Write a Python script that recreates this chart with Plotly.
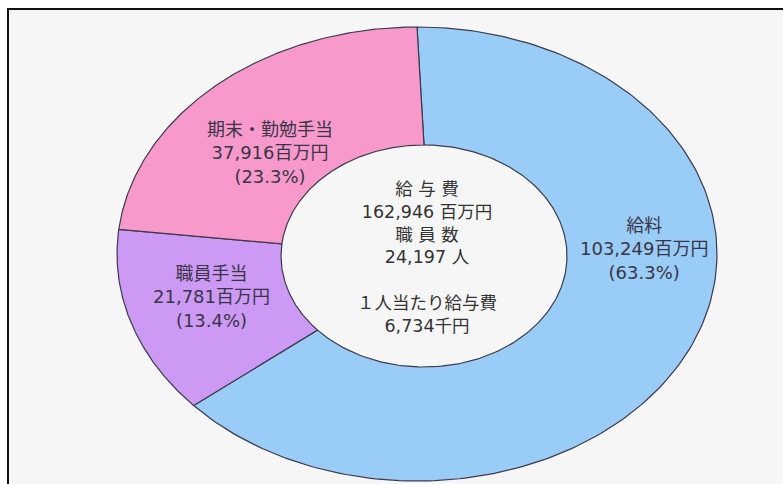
import numpy as np
import plotly.graph_objects as go

# ---- data ----
categories = ["給料", "職員手当", "期末・勤勉手当"]
values = [103249, 21781, 37916]          # 百万円
percents = ["63.3%", "13.4%", "23.3%"]
colors = ["#99CCF7", "#CC99F5", "#F799CB"]
total_cost = "162,946"                   # 百万円
staff_count = "24,197"                   # 人
per_person = "6,734"                     # 千円

# ---- geometry (layout, pixel-like axis units) ----
W, H = 783, 484
OUT_CX, OUT_CY, OUT_RX, OUT_RY = 417, 254, 300, 227
IN_CX, IN_CY, IN_RX, IN_RY = 424, 256, 143, 111
label_pos = {"給料": (644, 249), "職員手当": (211, 297), "期末・勤勉手当": (270, 153)}
TXT = "#3a3546"
FONT = "DejaVu Sans, Noto Sans CJK JP"

fig = go.Figure()

total = float(sum(values))
start = 0.0
for cat, val, col in zip(categories, values, colors):
    frac0 = start / total
    frac1 = (start + val) / total
    start += val
    th = np.linspace(frac0, frac1, 200) * 2 * np.pi  # clockwise from 12 o'clock
    xo = OUT_CX + OUT_RX * np.sin(th)
    yo = OUT_CY - OUT_RY * np.cos(th)
    xi = IN_CX + IN_RX * np.sin(th[::-1])
    yi = IN_CY - IN_RY * np.cos(th[::-1])
    xs = np.concatenate([xo, xi, xo[:1]])
    ys = np.concatenate([yo, yi, yo[:1]])
    fig.add_trace(go.Scatter(x=xs, y=ys, mode="lines", fill="toself",
                             fillcolor=col, line=dict(color="#3d3a4c", width=1.2),
                             hoverinfo="skip", showlegend=False, name=cat))

annotations = []
for cat, val, pct in zip(categories, values, percents):
    x0, y0 = label_pos[cat]
    text = "<br>".join([cat, f"{val:,}百万円", f"({pct})"])
    annotations.append(dict(x=x0, y=y0, xref="x", yref="y", text=text,
                            showarrow=False, xanchor="center", yanchor="middle",
                            align="center",
                            font=dict(family=FONT, size=18, color=TXT)))

center_text = "<br>".join(["給 与 費", f"{total_cost} 百万円", "職 員 数",
                           f"{staff_count} 人", "", "１人当たり給与費", f"{per_person}千円"])
annotations.append(dict(x=427, y=257.5, xref="x", yref="y", text=center_text,
                        showarrow=False, xanchor="center", yanchor="middle", align="center",
                        font=dict(family=FONT, size=17.5, color="#333333")))

fig.update_layout(
    width=W, height=H,
    margin=dict(l=0, r=0, t=0, b=0),
    paper_bgcolor="white",
    plot_bgcolor="rgba(0,0,0,0)",
    xaxis=dict(range=[0, W], visible=False, fixedrange=True),
    yaxis=dict(range=[H, 0], visible=False, fixedrange=True),
    annotations=annotations,
    shapes=[dict(type="rect", xref="x", yref="y", x0=8, y0=9, x1=W + 20, y1=H + 20,
                 line=dict(color="#111111", width=2), fillcolor="#f6f6f6", layer="below")],
    showlegend=False,
)

fig.write_html("out.html")
